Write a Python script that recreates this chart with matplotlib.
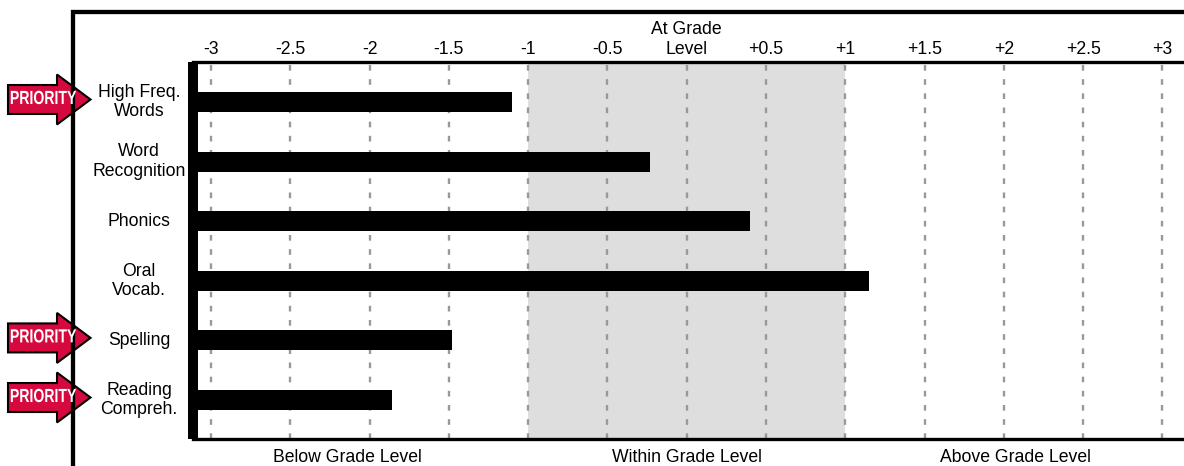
import numpy as np
import matplotlib
matplotlib.use("Agg")
import matplotlib.pyplot as plt
from matplotlib.patches import Polygon
from matplotlib.lines import Line2D
from matplotlib.patheffects import AbstractPathEffect
from matplotlib.transforms import Affine2D, IdentityTransform, blended_transform_factory

plt.rcParams['font.family'] = ['Liberation Sans', 'DejaVu Sans']

skills = ["High Freq.\nWords", "Word\nRecognition", "Phonics",
          "Oral\nVocab.", "Spelling", "Reading\nCompreh."]
scores = [-1.1, -0.23, 0.4, 1.15, -1.48, -1.86]
priority = [True, False, False, False, True, True]

tick_vals = [-3, -2.5, -2, -1.5, -1, -0.5, 0, 0.5, 1, 1.5, 2, 2.5, 3]
tick_labels = ["-3", "-2.5", "-2", "-1.5", "-1", "-0.5", "At Grade\nLevel",
               "+0.5", "+1", "+1.5", "+2", "+2.5", "+3"]
zones = ["Below Grade Level", "Within Grade Level", "Above Grade Level"]
zone_x = [-2.14, 0, 2.07]
within = (-1, 1)


class Squeeze(AbstractPathEffect):
    # narrows glyphs horizontally around cx (display px), like a condensed face
    def __init__(self, sx, cx):
        super().__init__()
        self.sx, self.cx = sx, cx

    def draw_path(self, renderer, gc, tpath, affine, rgbFace=None):
        aff = affine + Affine2D().translate(-self.cx, 0).scale(self.sx, 1).translate(self.cx, 0)
        renderer.draw_path(gc, tpath, aff, rgbFace)


W, H = 1184, 466
FS = 12.7
fig = plt.figure(figsize=(W / 100, H / 100), dpi=100)
ax = fig.add_axes([193 / W, 1 - 439 / H, 1 - 193 / W, (439 - 62) / H])

x0, x1 = -3.113, 3.136
ax.set_xlim(x0, x1)
ax.set_ylim(5.654, -0.671)

ax.axvspan(within[0], within[1], color='#dedede', zorder=0, lw=0)
for t in tick_vals:
    ax.axvline(t, color='#999999', lw=1.7, dashes=(2.4, 3.6), zorder=1)

y = np.arange(len(skills))
ax.barh(y, np.array(scores) - x0, left=x0, height=0.335, color='black', zorder=2)

ax.xaxis.tick_top()
ax.set_xticks(tick_vals)
ax.set_xticklabels(tick_labels, fontsize=FS)
ax.tick_params(axis='x', length=0, pad=3.2)
ax.set_yticks([])

for s in ['top', 'bottom']:
    ax.spines[s].set_linewidth(2.4)
ax.spines['left'].set_linewidth(7.2)
ax.spines['left'].set_capstyle('butt')
ax.spines['right'].set_visible(False)

tr = blended_transform_factory(ax.transData, ax.transAxes)
for zx, z in zip(zone_x, zones):
    ax.text(zx, -0.048, z, transform=tr, ha='center', va='center', fontsize=FS)

ltr = blended_transform_factory(fig.transFigure, ax.transData)
for i, s in enumerate(skills):
    ax.text(139 / W, i, s, transform=ltr, ha='center', va='center',
            fontsize=FS, clip_on=False)

# outer frame, open at right and bottom
fig.add_artist(Line2D([73 / W, 73 / W, 1.01], [-0.01, 1 - 12 / H, 1 - 12 / H],
                      transform=fig.transFigure, color='black', lw=3.1,
                      solid_joinstyle='miter'))

fig.canvas.draw()
for i, p in enumerate(priority):
    if not p:
        continue
    cy = ax.transData.transform((0, i))[1] + 2.5
    verts = [(8, cy + 14.5), (57, cy + 14.5), (57, cy + 25), (90.5, cy),
             (57, cy - 25), (57, cy - 14.5), (8, cy - 14.5)]
    fig.add_artist(Polygon(verts, closed=True, transform=IdentityTransform(),
                           facecolor='#d5093e', edgecolor='black', lw=1.5,
                           joinstyle='miter'))
    fig.text(43 / W, cy / H, "PRIORITY", ha='center', va='center',
             color='white', fontsize=13.7, fontweight='bold',
             path_effects=[Squeeze(0.74, 43)])

fig.savefig("out.png", dpi=100)
